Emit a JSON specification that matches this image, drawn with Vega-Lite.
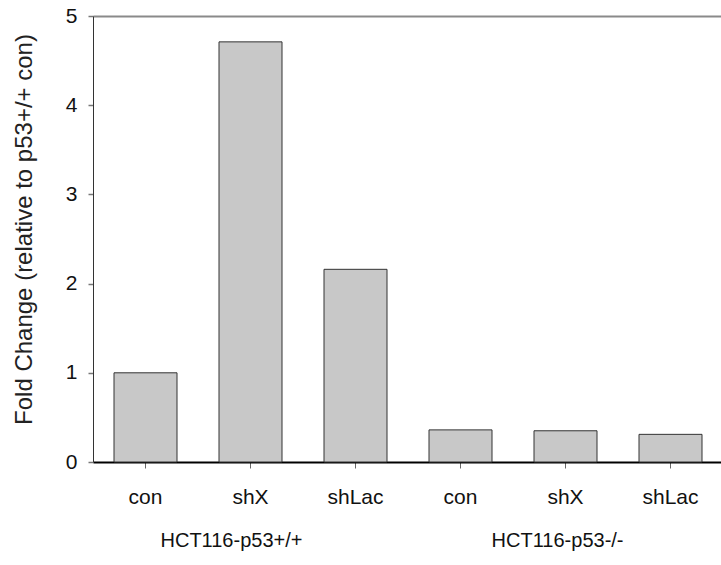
{
  "$schema": "https://vega.github.io/schema/vega-lite/v6.json",
  "width": 630,
  "height": 446,
  "autosize": {"type": "none"},
  "padding": {"left": 93, "top": 16, "right": 0, "bottom": 103},
  "background": "white",
  "config": {
    "view": {"stroke": null},
    "font": "Liberation Sans",
    "axis": {"labelFont": "Liberation Sans", "titleFont": "Liberation Sans"}
  },
  "layer": [
    {
      "data": {
        "values": [
          {"id": "+/+|con", "value": 1.0},
          {"id": "+/+|shX", "value": 4.71},
          {"id": "+/+|shLac", "value": 2.16},
          {"id": "-/-|con", "value": 0.36},
          {"id": "-/-|shX", "value": 0.35},
          {"id": "-/-|shLac", "value": 0.31}
        ]
      },
      "mark": {"type": "bar", "fill": "#c8c8c8", "stroke": "#333333", "strokeWidth": 1},
      "encoding": {
        "x": {
          "field": "id", "type": "nominal", "sort": null,
          "scale": {"paddingInner": 0.4, "paddingOuter": 0.2},
          "axis": {
            "title": null, "labelAngle": 0,
            "labelExpr": "split(datum.label, '|')[1]",
            "labelFontSize": 21, "labelColor": "#111111", "labelPadding": 18,
            "domainColor": "#000000", "domainWidth": 2,
            "tickColor": "#666666", "tickSize": 6, "tickWidth": 1
          }
        },
        "y": {
          "field": "value", "type": "quantitative",
          "scale": {"domain": [0, 5], "nice": false, "zero": true},
          "axis": {
            "title": "Fold Change (relative to p53+/+ con)",
            "titleFontSize": 24, "titleFontWeight": "normal", "titleColor": "#222222", "titlePadding": 29,
            "titleY": 213,
            "values": [0, 1, 2, 3, 4, 5],
            "labelFontSize": 21, "labelColor": "#111111", "labelPadding": 11,
            "domainColor": "#333333", "domainWidth": 1,
            "tickColor": "#777777", "tickSize": 5, "tickWidth": 1.5,
            "grid": true,
            "gridColor": {"condition": {"test": "datum.value === 5", "value": "#8a8a8a"}, "value": "transparent"},
            "gridWidth": 2
          }
        }
      }
    },
    {
      "data": {
        "values": [
          {"group": "HCT116-p53+/+"},
          {"group": "HCT116-p53-/-"}
        ]
      },
      "mark": {"type": "point", "opacity": 0},
      "encoding": {
        "x": {
          "field": "group", "type": "nominal", "sort": null,
          "scale": {"type": "point", "padding": 0.466, "align": 0.454},
          "axis": {
            "title": null, "labelAngle": 0, "orient": "bottom",
            "labelFontSize": 20, "labelColor": "#111111", "labelPadding": 68,
            "domain": false, "ticks": false
          }
        }
      }
    }
  ],
  "resolve": {"scale": {"x": "independent"}, "axis": {"x": "independent"}}
}
